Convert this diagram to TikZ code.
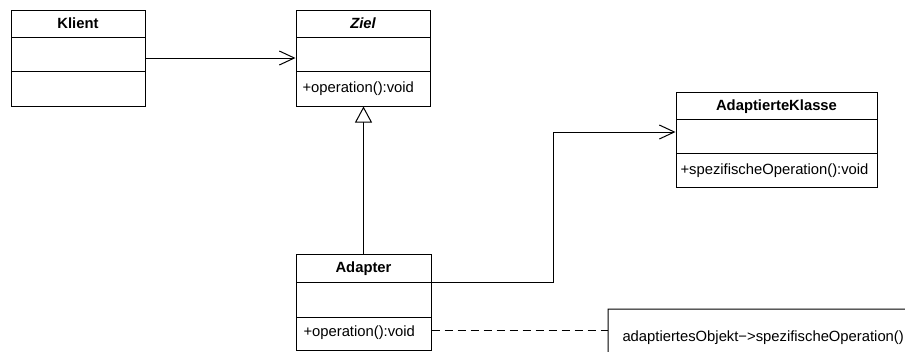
\documentclass[tikz,border=0pt]{standalone}
\usepackage{fontspec}
\setmainfont{Liberation Sans}
\usetikzlibrary{arrows.meta,calc}
\begin{document}
\begin{tikzpicture}[x=1pt,y=-1pt, line width=1pt,
  box/.style={draw, rectangle, inner sep=0pt},
  title/.style={font=\fontsize{14.8}{17}\selectfont\bfseries, inner sep=0pt},
  op/.style={font=\fontsize{14.8}{17}\selectfont, anchor=west, inner sep=0pt},
  assoc/.style={-{Straight Barb[length=15pt,width=14pt]}},
  gen/.style={-{Triangle[open,length=16pt,width=17pt,fill=white]}},
  notebox/.style={anchor=north west, minimum width=304, minimum height=56, inner xsep=14pt, font=\fontsize{14.8}{17}\selectfont},
  dep/.style={dash pattern=on 8pt off 5pt}]
\fill[white] (0,0) rectangle (905,351);
\useasboundingbox (0,0) rectangle (905,351);
\clip (0,0) rectangle (905,351);

% Klient
\node[box, minimum width=134, minimum height=96] (klient) at (78,58) {};
\node[title] (klientT) at (78,23.5) {Klient};
\draw (11,37) -- (145,37);
\draw (11,71) -- (145,71);

% Ziel
\node[box, minimum width=134, minimum height=96] (ziel) at (363,58) {};
\node[title, font=\fontsize{14.8}{17}\selectfont\bfseries\itshape] (zielT) at (363,23.5) {Ziel};
\draw (296,37) -- (430,37);
\draw (296,71) -- (430,71);
\node[op] (zielOp) at (302,89) {+operation():void};

% AdaptierteKlasse
\node[box, minimum width=201, minimum height=95] (adaptee) at (776.5,139.5) {};
\node[title] (adapteeT) at (776.5,106.5) {AdaptierteKlasse};
\draw (676,119) -- (877,119);
\draw (676,153) -- (877,153);
\node[op] (adapteeOp) at (680,171) {+spezifischeOperation():void};

% Adapter
\node[box, minimum width=135, minimum height=96] (adapter) at (363.5,302) {};
\node[title] (adapterT) at (363.5,268.5) {Adapter};
\draw (296,282) -- (431,282);
\draw (296,317) -- (431,317);
\node[op] (adapterOp) at (303,333) {+operation():void};

% Note
\node[notebox] (note) at (608,309) {adaptiertesObjekt−>spezifischeOperation()};
\draw (note.north west) -- ($(note.north east)+(-10,0)$) -- ($(note.north east)+(0,10)$) -- (note.south east) -- (note.south west) -- cycle;
\draw ($(note.north east)+(-10,0)$) -- ($(note.north east)+(-10,10)$) -- ($(note.north east)+(0,10)$);

% Connectors
\draw[assoc] (klient.east) -- (ziel.west);
\draw[gen] (adapter.north) -- (adapter.north |- ziel.south);
\coordinate (bend) at (553,132);
\draw[assoc] (adapter.east |- 0,282) -| (bend) -- (bend -| adaptee.west);
\draw[dep] (adapter.east |- 0,330) -- (note.west |- 0,330);
\end{tikzpicture}
\end{document}
